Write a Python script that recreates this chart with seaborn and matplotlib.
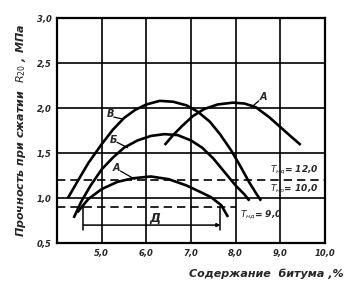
import matplotlib
matplotlib.use("Agg")
import matplotlib.pyplot as plt
import seaborn as sns
import pandas as pd

# ---- data ----
x_V = [4.24, 4.45, 4.70, 5.00, 5.25, 5.50, 5.75, 6.00, 6.30, 6.60, 6.90, 7.15,
       7.42, 7.65, 7.90, 8.10, 8.30, 8.45, 8.57]
y_V = [1.00, 1.18, 1.39, 1.60, 1.76, 1.89, 1.98, 2.04, 2.08, 2.07, 2.03, 1.96,
       1.85, 1.71, 1.53, 1.36, 1.18, 1.06, 0.97]

x_B = [4.37, 4.55, 4.75, 5.00, 5.25, 5.50, 5.80, 6.10, 6.40, 6.70, 7.00, 7.25,
       7.50, 7.75, 8.00, 8.20, 8.31]
y_B = [0.78, 0.97, 1.14, 1.32, 1.45, 1.56, 1.64, 1.69, 1.71, 1.70, 1.64, 1.56,
       1.44, 1.29, 1.14, 1.04, 0.97]

x_A = [4.45, 4.70, 5.00, 5.35, 5.70, 6.10, 6.50, 6.90, 7.20, 7.45, 7.68, 7.83]
y_A = [0.84, 0.99, 1.10, 1.18, 1.22, 1.24, 1.21, 1.14, 1.07, 1.01, 0.92, 0.79]

x_A2 = [6.41, 6.60, 6.80, 7.04, 7.30, 7.60, 7.94, 8.20, 8.45, 8.75, 9.00, 9.25, 9.46]
y_A2 = [1.59, 1.70, 1.80, 1.91, 1.99, 2.04, 2.06, 2.05, 2.01, 1.90, 1.79, 1.68, 1.59]

x_ticks = [5, 6, 7, 8, 9, 10]
x_tick_labels = ["5,0", "6,0", "7,0", "8,0", "9,0", "10,0"]
y_ticks = [0.5, 1.0, 1.5, 2.0, 2.5, 3.0]
y_tick_labels = ["0,5", "1,0", "1,5", "2,0", "2,5", "3,0"]

dash_levels = [1.2, 0.9]
dim_span = [4.59, 7.66]

sns.set_style("white")
plt.rcParams['font.family'] = ['DejaVu Sans']
plt.rcParams['mathtext.fontset'] = 'dejavusans'

fig = plt.figure(figsize=(3.55, 2.86), dpi=100)
ax = fig.add_axes([0.161, 0.150, 0.754, 0.787])

curves = [(x_V, y_V), (x_B, y_B), (x_A, y_A), (x_A2, y_A2)]
for cx, cy in curves:
    df = pd.DataFrame({"x": cx, "y": cy})
    sns.lineplot(data=df, x="x", y="y", ax=ax, sort=False, estimator=None,
                 color="black", linewidth=1.9, solid_joinstyle="round",
                 solid_capstyle="butt")

ax.set_xlim(4.0, 10.0)
ax.set_ylim(0.5, 3.0)
ax.set_xticks(x_ticks)
ax.set_xticklabels(x_tick_labels)
ax.set_yticks(y_ticks)
ax.set_yticklabels(y_tick_labels)
ax.tick_params(length=0, labelsize=6, pad=4)
for lab in ax.get_xticklabels() + ax.get_yticklabels():
    lab.set_fontstyle("italic")
    lab.set_fontweight("bold")
ax.grid(True, color="black", linewidth=1.2)
for s in ax.spines.values():
    s.set_linewidth(1.6)
    s.set_color("black")

# dashed levels
ax.axhline(dash_levels[0], color="black", linewidth=1.2, linestyle=(0, (5, 3)))
ax.plot([4.0, 8.0], [dash_levels[1]] * 2, color="black", linewidth=1.2,
        linestyle=(0, (5, 3)))

# dimension bracket
ax.plot([dim_span[0], dim_span[0]], [0.9, 0.65], color="black", linewidth=1.1)
ax.plot([dim_span[1], dim_span[1]], [0.9, 0.65], color="black", linewidth=1.1)
ax.annotate("", xy=(dim_span[0], 0.70), xytext=(dim_span[1], 0.70),
            arrowprops=dict(arrowstyle="<|-", color="black", lw=1.1,
                            mutation_scale=5, shrinkA=0, shrinkB=0))
ax.text(6.19, 0.78, "Д", fontsize=9, style="italic", fontweight="bold",
        ha="center", va="center")

# curve labels with leaders
tk = dict(fontsize=7, style="italic", fontweight="bold", ha="center", va="center")
ax.text(5.19, 1.93, "В", **tk)
ax.plot([5.27, 5.45], [1.90, 1.88], color="black", linewidth=0.9)
ax.text(5.26, 1.64, "Б", **tk)
ax.plot([5.34, 5.58], [1.62, 1.56], color="black", linewidth=0.9)
ax.text(5.33, 1.33, "А", **tk)
ax.plot([5.42, 5.74], [1.30, 1.21], color="black", linewidth=0.9)
ax.text(8.62, 2.12, "А", **tk)
ax.plot([8.38, 8.52], [2.02, 2.08], color="black", linewidth=0.9)

tt = dict(fontsize=6.5, style="italic", fontweight="bold", ha="left", va="center")
ax.text(8.77, 1.31, r"$T_{нд}$= 12,0", **tt)
ax.text(8.77, 1.10, r"$T_{нр}$= 10,0", **tt)
ax.text(8.10, 0.81, r"$T_{нд}$= 9,0", **tt)

ax.set_xlabel("Содержание  битума ,%", fontsize=8, style="italic",
              fontweight="bold", labelpad=1)
ax.xaxis.set_label_coords(0.78, -0.115)
ax.set_ylabel(r"Прочность при сжатии  $R_{20}$ , МПа", fontsize=8,
              style="italic", fontweight="bold", labelpad=6)

fig.savefig("out.png", dpi=100)
